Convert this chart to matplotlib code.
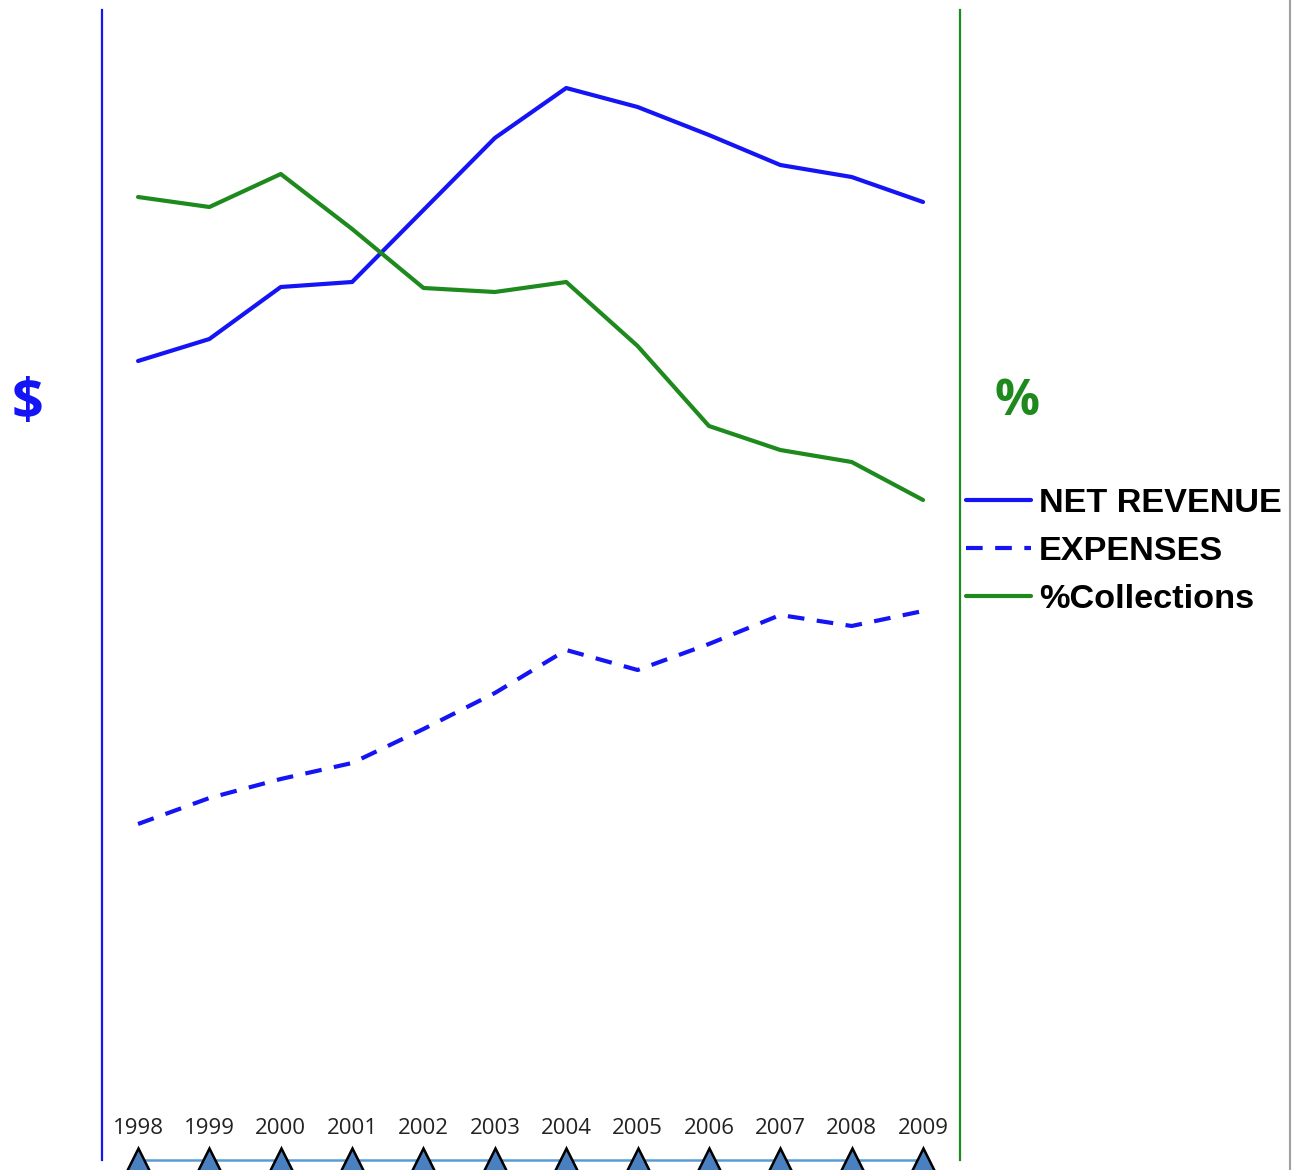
import matplotlib
matplotlib.use("Agg")
import matplotlib.pyplot as plt
from matplotlib.lines import Line2D

years = [1998, 1999, 2000, 2001, 2002, 2003, 2004, 2005, 2006, 2007, 2008, 2009]
net_revenue = [79.9, 82.1, 87.3, 87.8, 95.0, 102.2, 107.2, 105.3, 102.5, 99.5, 98.3, 95.8]
expenses = [33.6, 36.2, 38.1, 39.7, 43.1, 46.7, 51.0, 49.0, 51.6, 54.5, 53.4, 54.9]
collections = [96.3, 95.3, 98.6, 93.1, 87.2, 86.8, 87.8, 81.4, 73.4, 71.0, 69.8, 66.0]
series_labels = ["NET REVENUE", "EXPENSES", "%Collections"]

BLUE = "#1414f5"
GREEN = "#1e8a1e"

W, H = 1293, 1170
fig = plt.figure(figsize=(W / 100, H / 100), dpi=100)
ax = fig.add_axes([102 / W, 10 / H, (960 - 102) / W, 1150 / H])
ax.set_xlim(1997.495, 2009.518)
ax.set_ylim(0, 115)
ax2 = ax.twinx()
ax2.set_ylim(0, 115)

l1, = ax.plot(years, net_revenue, color=BLUE, lw=3.0, solid_capstyle="round")
l2, = ax.plot(years, expenses, color=BLUE, lw=3.0, ls=(0, (4, 3)))
l3, = ax2.plot(years, collections, color=GREEN, lw=3.0, solid_capstyle="round")

for a in (ax, ax2):
    a.set_xticks([])
    a.set_yticks([])
    for s in ("top", "bottom"):
        a.spines[s].set_visible(False)
ax.spines["right"].set_visible(False)
ax2.spines["left"].set_visible(False)
ax.spines["left"].set_color(BLUE)
ax.spines["left"].set_linewidth(1.6)
ax2.spines["right"].set_color(GREEN)
ax2.spines["right"].set_linewidth(1.6)

# bottom timeline with triangles
ax.plot(years, [0] * len(years), color="#5b9bd5", lw=1.8, marker="^", markersize=17,
        markerfacecolor="#4a7fc0", markeredgecolor="black", markeredgewidth=1.8, clip_on=False)
for yr in years:
    ax.text(yr, 3.2, str(yr), ha="center", va="center", fontsize=16, family="Open Sans", color="#222222")

fig.text(27 / W, 1 - 404 / H, "$", color=BLUE, fontsize=40, fontweight="bold",
         family="Open Sans", ha="center", va="center")
fig.text(1017 / W, 1 - 402 / H, "%", color=GREEN, fontsize=36, fontweight="bold",
         family="Open Sans", ha="center", va="center")

fig.legend([l1, l2, l3], series_labels, loc="upper left",
           bbox_to_anchor=(966 / W, 1 - 488 / H), bbox_transform=fig.transFigure,
           frameon=False, handlelength=1.9, handletextpad=0.22, labelspacing=0.49,
           borderpad=0, borderaxespad=0,
           prop={"family": "Liberation Sans", "weight": "bold", "size": 24.7})

fig.add_artist(Line2D([1290 / W, 1290 / W], [0, 1], color="#a0a0a0", lw=1.5))

fig.savefig("out.png", dpi=100)
